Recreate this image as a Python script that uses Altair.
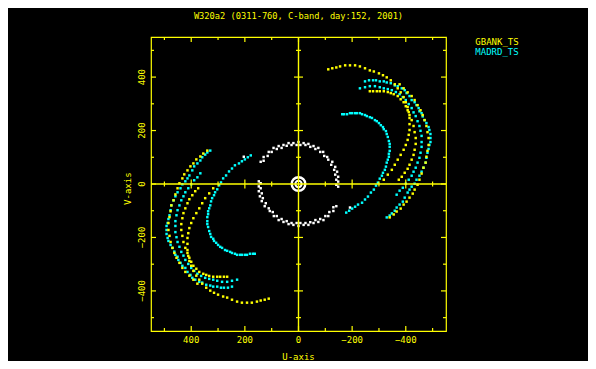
import altair as alt
import pandas as pd

# ---------------- text ----------------
TITLE = "W320a2 (0311-760, C-band, day:152, 2001)"
LEGEND_LABELS = ["GBANK_TS", "MADRD_TS"]
X_TITLE = "U-axis"
Y_TITLE = "V-axis"
TICK_VALUES = [400, 200, 0, -200, -400]
TICK_TEXT = ["400", "200", "0", "\u2212200", "\u2212400"]
MAJOR_TICKS = [-400, -200, 0, 200, 400]
MINOR_TICKS = [-500, -300, -100, 100, 300, 500]
CENTER_MAJOR = [-400, -200, 200, 400]
DOMAIN = [-550, 550]

# ---------------- GBANK_TS (yellow) ----------------
GB_A_U = [-111, -141, -174, -211, -248, -281, -315, -344, -370, -392, -407, -414, -414, -407, -392, -370, -348, -318]
GB_A_V = [429, 436, 444, 444, 433, 421, 407, 388, 358, 325, 288, 247, 202, 165, 128, 91, 53, 16]
GB_AM_U = [-126, -155, -192, -229, -266, -300, -329, -359, -381, -400, -411, -414, -411, -400, -381, -359, -333]
GB_AM_V = [433, 440, 444, 440, 425, 414, 399, 373, 343, 306, 269, 224, 184, 146, 109, 72, 35]
GB_B_U = [-266, -292, -318, -344, -370, -392, -407, -422, -433, -437, -429, -414, -396, -374]
GB_B_V = [347, 347, 347, 340, 329, 306, 276, 239, 194, 150, 109, 72, 42, 16]
GB_BM_U = [-278, -303, -333, -355, -381, -400, -414, -429, -437, -433, -422, -407, -385]
GB_BM_V = [347, 347, 344, 336, 317, 291, 258, 217, 172, 128, 91, 57, 27]
GB_C_U = [-377, -407, -433, -455, -470, -481, -485, -477, -466, -451, -433, -414, -392, -366, -340]
GB_C_V = [373, 343, 314, 276, 239, 194, 146, 102, 61, 16, -21, -51, -77, -103, -125]
GB_CM_U = [-392, -422, -444, -463, -477, -485, -481, -474, -459, -444, -426, -403, -381, -355]
GB_CM_V = [358, 329, 295, 258, 217, 172, 124, 80, 39, -3, -36, -66, -92, -114]
# conjugate half (lower left)
GB_A2_U = [111, 141, 174, 211, 248, 281, 315, 344, 370, 392, 407, 414, 414, 407, 392, 370, 348, 318]
GB_A2_V = [-429, -436, -444, -444, -433, -421, -407, -388, -358, -325, -288, -247, -202, -165, -128, -91, -53, -16]
GB_AM2_U = [126, 155, 192, 229, 266, 300, 329, 359, 381, 400, 411, 414, 411, 400, 381, 359, 333]
GB_AM2_V = [-433, -440, -444, -440, -425, -414, -399, -373, -343, -306, -269, -224, -184, -146, -109, -72, -35]
GB_B2_U = [266, 292, 318, 344, 370, 392, 407, 422, 433, 437, 429, 414, 396, 374]
GB_B2_V = [-347, -347, -347, -340, -329, -306, -276, -239, -194, -150, -109, -72, -42, -16]
GB_BM2_U = [278, 303, 333, 355, 381, 400, 414, 429, 437, 433, 422, 407, 385]
GB_BM2_V = [-347, -347, -344, -336, -317, -291, -258, -217, -172, -128, -91, -57, -27]
GB_C2_U = [377, 407, 433, 455, 470, 481, 485, 477, 466, 451, 433, 414, 392, 366, 340]
GB_C2_V = [-373, -343, -314, -276, -239, -194, -146, -102, -61, -16, 21, 51, 77, 103, 125]
GB_CM2_U = [392, 422, 444, 463, 477, 485, 481, 474, 459, 444, 426, 403, 381, 355]
GB_CM2_V = [-358, -329, -295, -258, -217, -172, -124, -80, -39, 3, 36, 66, 92, 114]

# ---------------- MADRD_TS (cyan) ----------------
MD_A_U = [-163, -181, -200, -218, -237, -255, -274, -292, -307, -318, -329, -337, -340, -337, -333, -326, -315, -303, -289, -270, -248, -222, -200, -178]
MD_A_V = [261, 261, 265, 265, 261, 254, 247, 235, 220, 205, 187, 161, 139, 113, 91, 65, 42, 20, -6, -32, -58, -77, -92, -107]
MD_AM_U = [-170, -192, -211, -229, -248, -266, -285, -300, -315, -326, -333, -340, -340, -337, -329, -322, -311, -296, -281, -259, -237, -211, -189]
MD_AM_V = [261, 265, 265, 265, 258, 250, 239, 228, 213, 198, 176, 150, 124, 102, 80, 53, 31, 5, -21, -47, -70, -85, -100]
MD_B_U = [-248, -278, -303, -329, -359, -385, -403, -422, -440, -451, -463, -477, -488, -492, -488, -481, -474, -459, -440, -422, -407, -389, -366, -348, -329]
MD_B_V = [384, 388, 384, 380, 369, 358, 340, 314, 295, 272, 253, 228, 202, 172, 146, 117, 80, 46, 16, -10, -32, -66, -88, -110, -125]
MD_BM_U = [-263, -289, -318, -344, -370, -396, -414, -433, -448, -459, -470, -485, -492, -492, -485, -477, -466, -451, -433, -414, -396, -377, -359, -340]
MD_BM_V = [388, 388, 384, 377, 366, 351, 329, 306, 284, 265, 239, 213, 187, 157, 131, 98, 61, 31, 1, -21, -51, -77, -100, -118]
MD_C_U = [-229, -266, -303, -333, -363, -389, -411, -429, -444, -455, -459, -455, -444, -429, -411, -389, -366]
MD_C_V = [358, 366, 362, 355, 344, 325, 299, 268, 235, 199, 157, 117, 80, 46, 16, -14, -40]
MD_CM_U = [-248, -285, -318, -348, -377, -400, -422, -437, -451, -459, -459, -451, -437, -422, -400, -377]
MD_CM_V = [362, 366, 358, 351, 336, 314, 284, 254, 217, 180, 139, 98, 61, 31, 1, -25]
# conjugate half (lower left)
MD_A2_U = [163, 181, 200, 218, 237, 255, 274, 292, 307, 318, 329, 337, 340, 337, 333, 326, 315, 303, 289, 270, 248, 222, 200, 178]
MD_A2_V = [-261, -261, -265, -265, -261, -254, -247, -235, -220, -205, -187, -161, -139, -113, -91, -65, -42, -20, 6, 32, 58, 77, 92, 107]
MD_AM2_U = [170, 192, 211, 229, 248, 266, 285, 300, 315, 326, 333, 340, 340, 337, 329, 322, 311, 296, 281, 259, 237, 211, 189]
MD_AM2_V = [-261, -265, -265, -265, -258, -250, -239, -228, -213, -198, -176, -150, -124, -102, -80, -53, -31, -5, 21, 47, 70, 85, 100]
MD_B2_U = [248, 278, 303, 329, 359, 385, 403, 422, 440, 451, 463, 477, 488, 492, 488, 481, 474, 459, 440, 422, 407, 389, 366, 348, 329]
MD_B2_V = [-384, -388, -384, -380, -369, -358, -340, -314, -295, -272, -253, -228, -202, -172, -146, -117, -80, -46, -16, 10, 32, 66, 88, 110, 125]
MD_BM2_U = [263, 289, 318, 344, 370, 396, 414, 433, 448, 459, 470, 485, 492, 492, 485, 477, 466, 451, 433, 414, 396, 377, 359, 340]
MD_BM2_V = [-388, -388, -384, -377, -366, -351, -329, -306, -284, -265, -239, -213, -187, -157, -131, -98, -61, -31, -1, 21, 51, 77, 100, 118]
MD_C2_U = [229, 266, 303, 333, 363, 389, 411, 429, 444, 455, 459, 455, 444, 429, 411, 389, 366]
MD_C2_V = [-358, -366, -362, -355, -344, -325, -299, -268, -235, -199, -157, -117, -80, -46, -16, 14, 40]
MD_CM2_U = [248, 285, 318, 348, 377, 400, 422, 437, 451, 459, 459, 451, 437, 422, 400, 377]
MD_CM2_V = [-362, -366, -358, -351, -336, -314, -284, -254, -217, -180, -139, -98, -61, -31, -1, 25]

# ---------------- ground baselines (white) ----------------
GR_A_U = [141, 130, 111, 93, 74, 56, 37, 19, 0, -19, -37, -56, -74, -92, -107, -126, -137, -144, -148, -148, -148]
GR_A_V = [83, 101, 120, 135, 142, 146, 153, 153, 157, 153, 150, 142, 135, 120, 101, 83, 64, 46, 27, 9, -10]
GR_AM_U = [130, 115, 100, 81, 63, 44, 26, 7, -7, -26, -44, -63, -81, -96, -111, -122, -133, -137, -141, -141]
GR_AM_V = [87, 105, 120, 131, 135, 143, 146, 146, 146, 146, 139, 131, 120, 105, 91, 72, 53, 35, 16, -3]
GR_B_U = [-141, -130, -111, -93, -74, -56, -37, -19, 0, 19, 37, 56, 74, 92, 107, 126, 137, 144, 148, 148, 148]
GR_B_V = [-83, -101, -120, -135, -142, -146, -153, -153, -157, -153, -150, -142, -135, -120, -101, -83, -64, -46, -27, -9, 10]
GR_BM_U = [-130, -115, -100, -81, -63, -44, -26, -7, 7, 26, 44, 63, 81, 96, 111, 122, 133, 137, 141, 141]
GR_BM_V = [-87, -105, -120, -131, -135, -143, -146, -146, -146, -146, -139, -131, -120, -105, -91, -72, -53, -35, -16, 3]
GR_X_U = [-192, 204]
GR_X_V = [-88, 102]
CENTER_U = [0]
CENTER_V = [0]

YELLOW = "#ffff00"
CYAN = "#00ffff"
WHITE = "#ffffff"
W, H = 295, 294
FONT = "DejaVu Sans Mono"

tracks = [
    (GR_A_U, GR_A_V, "ground"), (GR_AM_U, GR_AM_V, "ground"),
    (GR_B_U, GR_B_V, "ground"), (GR_BM_U, GR_BM_V, "ground"), (GR_X_U, GR_X_V, "ground"),
    (MD_A_U, MD_A_V, "MADRD_TS"), (MD_AM_U, MD_AM_V, "MADRD_TS"),
    (MD_B_U, MD_B_V, "MADRD_TS"), (MD_BM_U, MD_BM_V, "MADRD_TS"),
    (MD_C_U, MD_C_V, "MADRD_TS"), (MD_CM_U, MD_CM_V, "MADRD_TS"),
    (MD_A2_U, MD_A2_V, "MADRD_TS"), (MD_AM2_U, MD_AM2_V, "MADRD_TS"),
    (MD_B2_U, MD_B2_V, "MADRD_TS"), (MD_BM2_U, MD_BM2_V, "MADRD_TS"),
    (MD_C2_U, MD_C2_V, "MADRD_TS"), (MD_CM2_U, MD_CM2_V, "MADRD_TS"),
    (GB_A_U, GB_A_V, "GBANK_TS"), (GB_AM_U, GB_AM_V, "GBANK_TS"),
    (GB_B_U, GB_B_V, "GBANK_TS"), (GB_BM_U, GB_BM_V, "GBANK_TS"),
    (GB_C_U, GB_C_V, "GBANK_TS"), (GB_CM_U, GB_CM_V, "GBANK_TS"),
    (GB_A2_U, GB_A2_V, "GBANK_TS"), (GB_AM2_U, GB_AM2_V, "GBANK_TS"),
    (GB_B2_U, GB_B2_V, "GBANK_TS"), (GB_BM2_U, GB_BM2_V, "GBANK_TS"),
    (GB_C2_U, GB_C2_V, "GBANK_TS"), (GB_CM2_U, GB_CM2_V, "GBANK_TS"),
]
rows = []
for us, vs, g in tracks:
    for a, b in zip(us, vs):
        rows.append({"u": a, "v": b, "grp": g})
df = pd.DataFrame(rows)

xs = alt.Scale(domain=DOMAIN, reverse=True, nice=False, zero=False)
ys = alt.Scale(domain=DOMAIN, nice=False, zero=False)

points = alt.Chart(df).mark_square(size=6, opacity=1).encode(
    x=alt.X("u:Q", scale=xs, axis=None),
    y=alt.Y("v:Q", scale=ys, axis=None),
    color=alt.Color("grp:N", scale=alt.Scale(domain=["ground", "GBANK_TS", "MADRD_TS"],
                                             range=[WHITE, YELLOW, CYAN]), legend=None),
)

cdf = pd.DataFrame({"u": CENTER_U, "v": CENTER_V})
center_outer = alt.Chart(cdf).mark_point(shape="circle", size=185, filled=False, color=WHITE, strokeWidth=2.4, opacity=1).encode(
    x=alt.X("u:Q", scale=xs, axis=None), y=alt.Y("v:Q", scale=ys, axis=None))
center_inner = alt.Chart(cdf).mark_point(shape="circle", size=40, filled=False, color=WHITE, strokeWidth=2, opacity=1).encode(
    x=alt.X("u:Q", scale=xs, axis=None), y=alt.Y("v:Q", scale=ys, axis=None))

zero_df = pd.DataFrame({"z": [0]})
axis_v = alt.Chart(zero_df).mark_rule(color=YELLOW, strokeWidth=1.4).encode(
    x=alt.X("z:Q", scale=xs, axis=None), y=alt.value(0), y2=alt.value(H))
axis_h = alt.Chart(zero_df).mark_rule(color=YELLOW, strokeWidth=1.4).encode(
    y=alt.Y("z:Q", scale=ys, axis=None), x=alt.value(0), x2=alt.value(W))


def frame_ticks(values, length):
    d = pd.DataFrame({"t": values})
    b = alt.Chart(d)
    m = dict(color=YELLOW, strokeWidth=1.2)
    xe = alt.X("t:Q", scale=xs, axis=None)
    ye = alt.Y("t:Q", scale=ys, axis=None)
    return [
        b.mark_rule(**m).encode(x=xe, y=alt.value(0), y2=alt.value(length)),
        b.mark_rule(**m).encode(x=xe, y=alt.value(H), y2=alt.value(H - length)),
        b.mark_rule(**m).encode(y=ye, x=alt.value(0), x2=alt.value(length)),
        b.mark_rule(**m).encode(y=ye, x=alt.value(W), x2=alt.value(W - length)),
    ]


def center_ticks(values, half):
    d = pd.DataFrame({"t": values})
    b = alt.Chart(d)
    m = dict(color=YELLOW, strokeWidth=1.2)
    return [
        b.mark_rule(**m).encode(x=alt.X("t:Q", scale=xs, axis=None), y=alt.value(H / 2 - half), y2=alt.value(H / 2 + half)),
        b.mark_rule(**m).encode(y=alt.Y("t:Q", scale=ys, axis=None), x=alt.value(W / 2 - half), x2=alt.value(W / 2 + half)),
    ]


ticks = frame_ticks(MAJOR_TICKS, 5) + frame_ticks(MINOR_TICKS, 3) + center_ticks(CENTER_MAJOR, 4.5) + center_ticks(MINOR_TICKS, 2.5)

ldf = pd.DataFrame({"t": TICK_VALUES, "label": TICK_TEXT})
xlabels = alt.Chart(ldf).mark_text(color=YELLOW, font=FONT, fontSize=9, align="center", baseline="middle").encode(
    x=alt.X("t:Q", scale=xs, axis=None), y=alt.value(H + 8.5), text="label:N")
ylabels = alt.Chart(ldf).mark_text(color=YELLOW, font=FONT, fontSize=9, align="center", baseline="middle", angle=270).encode(
    y=alt.Y("t:Q", scale=ys, axis=None), x=alt.value(-9), text="label:N")

tdf = pd.DataFrame({"s": [TITLE]})
title = alt.Chart(tdf).mark_text(color=YELLOW, font=FONT, fontSize=8.7, align="center", baseline="middle").encode(
    x=alt.value(W / 2), y=alt.value(-21.3), text="s:N")
xt = alt.Chart(pd.DataFrame({"s": [X_TITLE]})).mark_text(color=YELLOW, font=FONT, fontSize=9, align="center", baseline="middle").encode(
    x=alt.value(W / 2), y=alt.value(H + 25.5), text="s:N")
yt = alt.Chart(pd.DataFrame({"s": [Y_TITLE]})).mark_text(color=YELLOW, font=FONT, fontSize=9, align="center", baseline="middle", angle=270).encode(
    x=alt.value(-22.7), y=alt.value(151.7), text="s:N")
leg1 = alt.Chart(pd.DataFrame({"s": [LEGEND_LABELS[0]]})).mark_text(color=YELLOW, font=FONT, fontSize=9, align="left", baseline="middle").encode(
    x=alt.value(324.3), y=alt.value(4.7), text="s:N")
leg2 = alt.Chart(pd.DataFrame({"s": [LEGEND_LABELS[1]]})).mark_text(color=CYAN, font=FONT, fontSize=9, align="left", baseline="middle").encode(
    x=alt.value(324.3), y=alt.value(14.7), text="s:N")

chart = alt.layer(
    points, center_outer, center_inner, axis_v, axis_h, *ticks,
    xlabels, ylabels, title, xt, yt, leg1, leg2,
).properties(
    width=W, height=H,
    autosize=alt.AutoSizeParams(type="none"),
    padding={"left": 143, "top": 29, "right": 142, "bottom": 30},
    background="black",
    usermeta={"embedOptions": {"defaultStyle": "html{background-color:#000 !important;} body{background-color:#000 !important;overflow:hidden;}"}},
).configure_view(stroke=YELLOW, strokeWidth=1.2)

chart.save("out.html", embed_options={"renderer": "svg", "actions": False})
